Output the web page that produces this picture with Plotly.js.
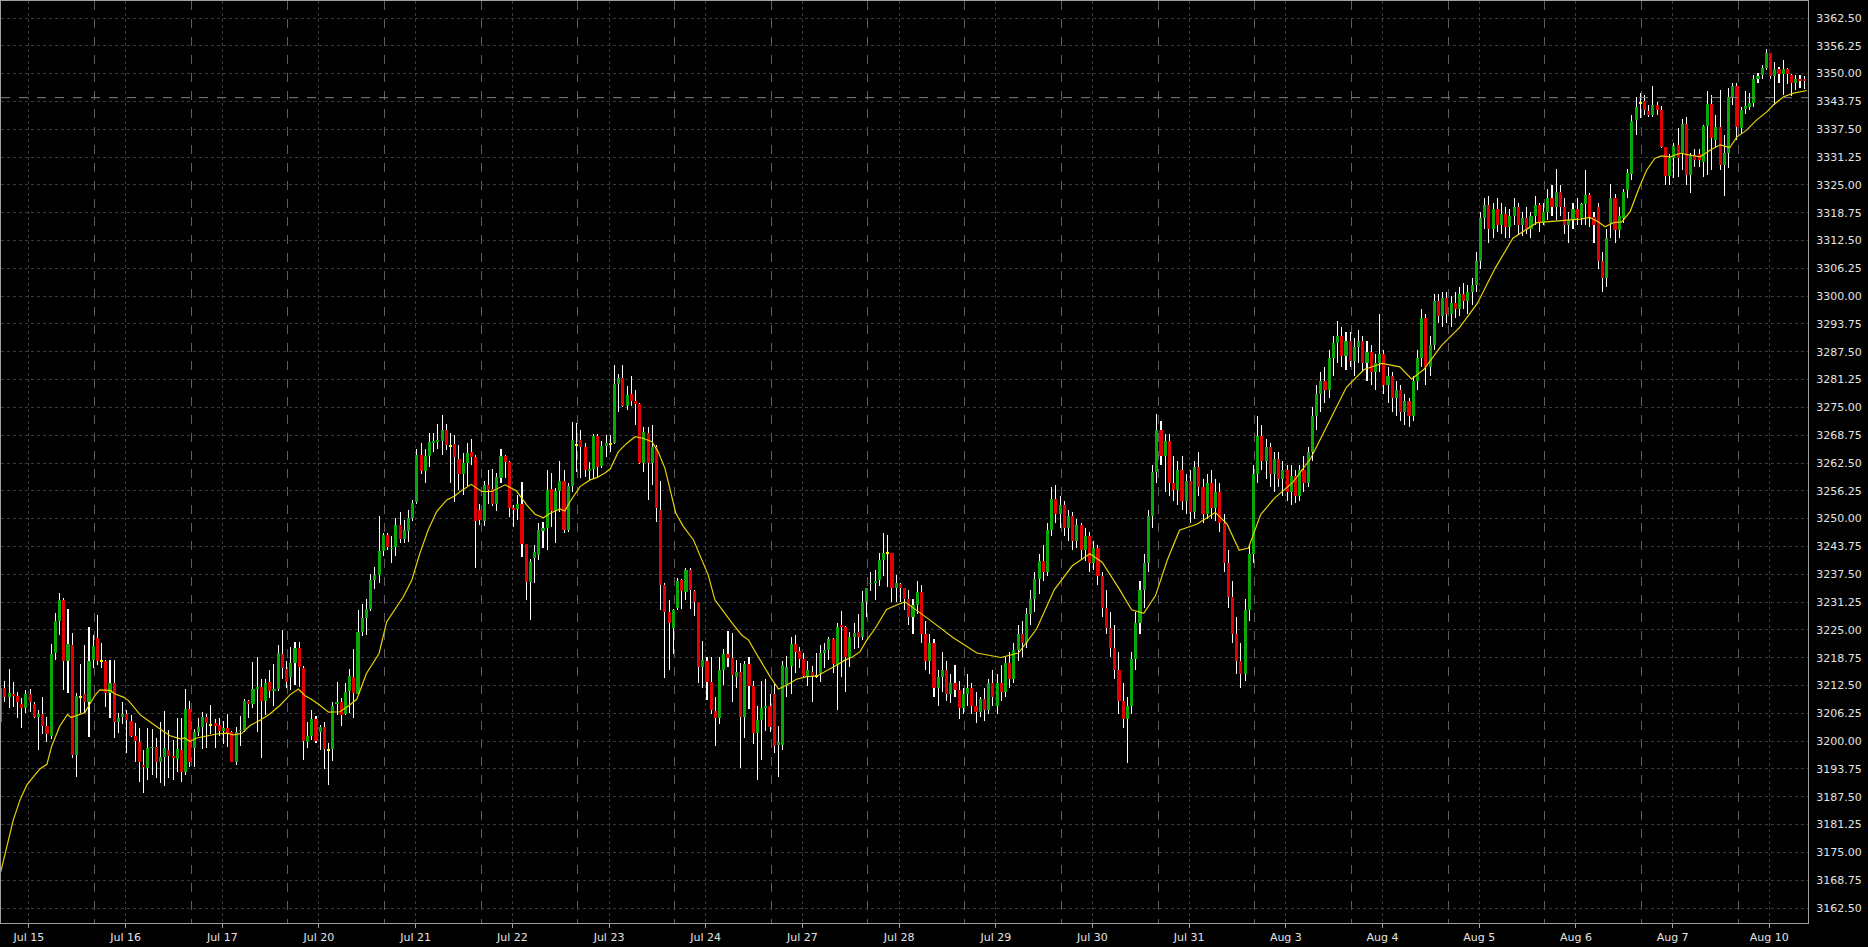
<!DOCTYPE html>
<html><head><meta charset="utf-8">
<script src="https://cdn.plot.ly/plotly-3.0.1.min.js"></script>
<style>html,body{margin:0;padding:0;background:#000;}#chart{width:1868px;height:947px;}</style>
</head><body><div id="chart"></div>
<script>
const dayLabels = ['Jul 15','Jul 16','Jul 17','Jul 20','Jul 21','Jul 22','Jul 23','Jul 24','Jul 27','Jul 28','Jul 29','Jul 30','Jul 31','Aug 3','Aug 4','Aug 5','Aug 6','Aug 7','Aug 10'];

const open = [
3204.2,3211.9,3210.0,3210.6,3210.2,3208.3,3207.5,3210.6,3208.4,3205.5,
3206.1,3203.5,3201.2,3219.9,3227.1,3231.8,3218.1,3221.6,3196.9,3210.0,
3210.6,3208.9,3218.3,3223.1,3217.9,3218.1,3210.9,3213.0,3204.4,3205.5,
3206.1,3204.5,3201.2,3199.9,3194.7,3194.0,3198.4,3198.7,3195.4,3196.4,
3198.0,3196.7,3196.0,3198.0,3193.0,3207.2,3198.4,3202.0,3203.2,3205.5,
3203.6,3204.0,3203.7,3202.2,3202.9,3202.0,3195.4,3202.2,3202.5,3209.1,
3208.3,3211.7,3212.1,3209.1,3213.2,3211.2,3211.7,3219.6,3216.2,3214.3,
3217.5,3221.0,3216.4,3199.9,3201.2,3204.9,3202.1,3203.1,3197.9,3198.2,
3208.4,3208.9,3206.2,3211.3,3214.5,3210.7,3224.6,3227.6,3229.6,3236.2,
3237.3,3242.8,3246.3,3243.1,3243.6,3248.6,3245.4,3247.3,3250.1,3253.8,
3264.3,3260.8,3264.1,3267.1,3267.3,3267.5,3269.9,3266.4,3266.7,3263.4,
3260.0,3262.6,3264.9,3263.9,3251.9,3249.5,3257.6,3256.6,3253.4,3259.2,
3264.1,3262.8,3252.3,3252.2,3253.3,3244.2,3235.7,3241.2,3241.8,3247.3,
3247.8,3256.7,3251.8,3256.1,3258.5,3247.4,3257.3,3266.5,3267.7,3266.2,
3260.7,3261.2,3268.6,3261.9,3266.4,3266.8,3267.1,3280.2,3281.5,3275.4,
3277.9,3276.4,3275.7,3262.4,3269.2,3262.4,3266.2,3252.0,3235.1,3229.0,
3225.4,3230.0,3236.2,3233.6,3238.5,3233.7,3231.2,3216.7,3218.0,3213.2,
3206.8,3205.3,3216.0,3219.5,3218.6,3214.5,3215.5,3205.5,3217.3,3212.4,
3201.9,3204.7,3207.5,3207.9,3210.7,3199.2,3199.2,3212.4,3216.9,3221.8,
3220.3,3218.4,3214.6,3215.6,3214.6,3215.2,3219.7,3220.5,3222.9,3217.1,
3226.1,3225.6,3218.8,3223.5,3224.6,3223.3,3231.3,3235.2,3235.5,3236.2,
3240.8,3242.2,3242.2,3234.3,3235.3,
3234.3,3232.0,3228.0,3230.5,3233.5,3224.0,3218.0,3222.0,3212.0,3214.5,
3216.0,3210.5,3213.0,3211.5,3207.5,3210.5,3212.0,3208.0,3206.5,3209.5,
3207.0,3213.0,
3208.0,3213.0,3211.0,3217.5,3214.0,3220.5,3224.0,3222.0,3228.5,3232.0,
3236.5,3240.5,3238.0,3247.5,3254.5,3251.0,3253.0,3248.0,3250.5,3245.0,
3248.5,3243.0,3246.0,3240.0,3243.5,3237.0,3230.0,3225.5,3221.0,3216.0,
3209.0,3205.0,3208.0,3218.5,3226.5,3234.0,3240.0,3250.5,3260.5,3270.0,
3264.0,3267.5,3258.0,3256.5,3261.0,3254.0,3258.5,3251.5,3261.5,3257.0,
3251.0,3258.0,3252.5,3256.0,3249.0,3240.0,3232.5,3224.0,3218.0,3215.0,
3229.5,3242.0,3260.0,3268.5,3263.0,3266.0,3260.0,3263.5,3259.0,3261.0,
3256.0,3259.5,3255.0,3261.0,3258.0,
3265.0,3273.0,3278.0,3281.0,3279.0,3286.0,3289.5,
3291.0,3286.5,3290.0,3285.5,3288.5,3290.0,3285.0,3287.5,3283.0,3285.0,
3287.0,3280.0,3282.0,3277.0,3279.0,3274.0,3276.5,3273.0,3281.0,3286.0,
3295.0,3284.0,3289.0,3299.0,3295.5,
3299.5,3296.0,3298.5,3297.0,3300.5,3299.0,3301.0,3302.5,
3308.0,3317.5,3320.5,3315.0,3319.5,3316.0,3318.5,3315.5,3318.0,3320.0,
3316.0,3317.5,3315.0,3318.0,3320.5,3316.5,3319.0,3322.0,3320.0,3323.5,
3320.0,3316.0,3317.0,3319.5,
3317.5,3320.8,3322.7,3317.8,3320.1,3308.0,3304.0,3316.4,3322.0,3314.9,
3317.5,3323.9,3327.4,3339.6,3343.5,3343.9,3341.7,3340.7,3343.0,3341.8,
3333.4,3327.0,3331.0,3333.9,3332.1,3338.7,3327.2,3331.7,3331.9,3330.2,
3338.2,3343.2,3335.1,3338.1,3329.5,3332.1,3344.8,3347.2,3337.7,3342.0,
3342.6,3343.3,3348.9,3349.7,3351.2,3354.7,3349.5,3351.0,3349.9,3351.0,
3349.7,3347.8,3348.9,3348.9];

const high = [
3214.5,3213.6,3216.2,3213.3,3211.1,3209.6,3211.5,3211.7,3208.9,3207.0,
3210.0,3205.5,3221.9,3228.8,3233.4,3232.1,3229.7,3224.3,3210.8,3217.4,
3221.6,3225.6,3223.9,3228.4,3222.0,3218.3,3218.3,3218.3,3206.4,3208.7,
3207.0,3205.9,3204.0,3202.9,3197.9,3202.9,3202.7,3200.8,3204.2,3206.7,
3202.5,3200.3,3205.3,3205.2,3211.7,3209.0,3202.7,3205.3,3206.5,3206.1,
3208.2,3205.0,3205.2,3204.6,3206.1,3202.3,3203.1,3205.7,3209.5,3209.2,
3217.7,3219.0,3214.0,3214.0,3216.0,3217.4,3221.7,3225.0,3218.1,3221.1,
3222.2,3222.2,3216.8,3204.4,3207.0,3205.7,3203.6,3204.2,3199.5,3208.9,
3213.4,3209.6,3213.0,3216.1,3220.8,3229.5,3230.8,3231.9,3237.6,3239.2,
3250.6,3246.8,3246.8,3246.0,3250.1,3251.6,3249.7,3251.9,3254.2,3265.6,
3267.1,3265.6,3269.3,3269.3,3271.3,3273.3,3271.3,3269.3,3268.8,3266.6,
3264.7,3266.9,3267.9,3264.3,3253.4,3258.5,3260.9,3261.2,3260.2,3265.7,
3264.4,3263.0,3253.1,3255.3,3258.2,3244.4,3240.9,3244.1,3249.0,3249.3,
3261.0,3260.2,3256.8,3263.0,3261.0,3257.9,3271.8,3271.4,3269.9,3267.1,
3262.8,3269.0,3269.0,3267.4,3268.8,3268.8,3284.5,3282.4,3284.5,3279.7,
3282.1,3278.9,3275.9,3270.7,3270.7,3271.0,3266.5,3258.5,3235.5,3231.7,
3229.8,3236.6,3236.4,3238.8,3239.0,3234.0,3231.3,3222.5,3219.0,3219.0,
3210.0,3219.0,3220.7,3224.7,3224.4,3218.2,3217.5,3218.0,3219.0,3213.5,
3207.9,3213.6,3213.9,3210.6,3213.0,3203.4,3217.9,3219.1,3223.5,3223.8,
3221.2,3219.7,3218.1,3216.9,3219.9,3221.6,3222.1,3223.3,3223.1,3226.5,
3229.3,3225.9,3224.6,3226.6,3228.6,3233.8,3234.3,3237.9,3238.5,3242.3,
3246.7,3246.3,3242.3,3237.3,3235.6,
3234.5,3234.0,3232.0,3236.0,3235.0,3227.0,3224.0,3223.0,3216.0,3220.0,
3218.0,3215.0,3217.0,3213.5,3212.0,3215.0,3213.0,3211.0,3210.0,3212.0,
3214.0,3216.0,
3215.0,3217.0,3219.0,3220.0,3222.0,3226.0,3227.0,3230.0,3234.0,3238.0,
3242.0,3244.0,3249.0,3257.0,3257.5,3255.0,3254.0,3252.0,3251.5,3250.0,
3249.0,3248.0,3247.0,3245.0,3244.0,3238.0,3234.0,3229.0,3226.0,3220.0,
3213.0,3210.0,3220.0,3229.0,3236.0,3242.0,3252.0,3262.0,3273.5,3272.0,
3269.0,3269.0,3264.0,3263.0,3264.0,3260.0,3261.0,3263.0,3265.0,3259.0,
3260.0,3261.0,3259.0,3258.0,3251.0,3243.0,3236.0,3228.0,3222.0,3232.0,
3244.0,3262.0,3273.0,3271.0,3268.0,3267.0,3265.0,3265.0,3263.0,3262.0,
3262.0,3261.0,3262.0,3264.0,3266.0,
3275.0,3280.0,3283.0,3284.0,3288.0,3291.0,3294.5,
3293.0,3292.0,3292.0,3290.5,3292.5,3291.0,3290.0,3289.0,3287.0,3296.0,
3288.0,3284.0,3283.0,3281.0,3280.0,3278.0,3277.0,3282.0,3288.0,3297.0,
3296.0,3291.0,3300.5,3300.5,3301.0,
3301.0,3300.0,3301.0,3302.0,3303.0,3302.5,3304.0,3310.0,
3319.0,3322.0,3322.5,3321.0,3322.0,3321.0,3320.0,3319.5,3322.0,3321.0,
3319.0,3320.0,3319.0,3322.5,3321.0,3321.0,3324.0,3325.0,3328.5,3325.0,
3322.0,3319.0,3321.0,3322.0,
3321.0,3328.3,3323.1,3319.0,3321.0,3310.0,3315.0,3325.3,3323.0,3320.0,
3324.0,3328.5,3340.7,3344.8,3345.6,3345.2,3343.0,3347.2,3343.7,3342.7,
3333.4,3332.0,3334.3,3337.7,3339.9,3340.2,3332.1,3333.0,3333.0,3338.5,
3346.2,3345.2,3340.7,3346.3,3336.2,3346.7,3347.8,3347.8,3342.6,3346.0,
3345.6,3349.7,3350.1,3352.0,3355.5,3354.7,3352.7,3351.6,3353.1,3351.2,
3349.9,3349.7,3349.7,3349.5];

const low = [
3204.0,3208.7,3207.5,3207.6,3205.3,3203.0,3206.3,3206.6,3205.1,3197.9,
3201.6,3199.9,3200.4,3218.3,3223.9,3211.4,3210.8,3196.3,3191.9,3206.4,
3206.4,3201.0,3216.4,3217.2,3216.4,3207.6,3205.1,3200.6,3201.8,3203.8,
3197.3,3201.0,3195.3,3190.9,3188.4,3191.3,3192.4,3191.7,3190.5,3190.0,
3191.7,3191.2,3193.0,3190.9,3192.4,3194.2,3194.2,3201.2,3198.2,3198.4,
3201.6,3198.5,3201.2,3199.4,3198.6,3195.2,3194.7,3199.0,3202.0,3205.3,
3207.4,3202.0,3196.3,3205.9,3209.8,3208.0,3211.3,3214.0,3212.0,3211.5,
3212.7,3212.1,3195.8,3198.4,3200.3,3199.5,3198.0,3193.7,3190.2,3195.6,
3205.9,3203.3,3205.9,3206.4,3205.1,3210.4,3223.6,3223.8,3229.3,3234.1,
3235.5,3241.6,3243.0,3240.0,3241.6,3244.6,3244.6,3244.8,3249.5,3253.3,
3260.0,3257.9,3261.7,3265.0,3265.6,3264.3,3265.4,3258.1,3253.8,3256.4,
3255.3,3257.4,3262.0,3239.0,3248.6,3248.4,3253.4,3252.9,3251.7,3258.0,
3259.1,3250.4,3248.2,3249.7,3241.4,3231.7,3227.2,3235.5,3240.7,3243.3,
3243.0,3248.2,3244.5,3251.6,3246.7,3247.1,3255.9,3260.5,3259.1,3259.4,
3258.7,3259.2,3259.4,3261.3,3263.9,3265.0,3266.7,3273.9,3275.0,3274.4,
3275.2,3271.0,3262.2,3260.5,3254.2,3257.6,3249.3,3229.5,3214.1,3216.0,
3219.5,3229.5,3229.8,3231.7,3229.8,3228.2,3213.0,3211.9,3209.2,3206.0,
3199.0,3203.8,3212.6,3216.7,3208.7,3211.9,3194.0,3200.8,3207.2,3199.4,
3191.3,3195.8,3202.2,3202.0,3197.4,3191.9,3198.0,3210.0,3210.7,3215.2,
3216.4,3214.1,3212.3,3208.9,3214.1,3213.4,3216.4,3218.2,3215.2,3207.0,
3214.5,3211.1,3216.7,3220.6,3220.9,3222.7,3228.0,3233.7,3231.8,3234.9,
3237.0,3234.7,3231.3,3231.3,3231.3,
3229.5,3226.0,3224.0,3228.5,3222.0,3216.0,3215.0,3210.0,3208.0,3211.0,
3209.0,3208.5,3210.0,3205.0,3206.0,3208.0,3206.0,3204.0,3205.5,3204.5,
3206.0,3208.0,
3206.0,3209.0,3210.0,3212.0,3213.0,3218.0,3219.0,3221.0,3226.0,3229.0,
3233.0,3236.0,3237.0,3246.0,3249.0,3248.0,3246.0,3245.0,3243.0,3243.5,
3241.0,3240.5,3238.0,3238.5,3235.0,3228.0,3224.0,3219.0,3214.0,3206.0,
3203.0,3195.0,3206.0,3216.0,3224.0,3230.0,3238.0,3248.0,3258.0,3262.0,
3256.0,3255.0,3254.0,3253.0,3252.0,3251.0,3249.0,3250.0,3255.0,3249.0,
3250.0,3250.0,3249.5,3247.0,3238.0,3230.0,3222.0,3215.0,3212.0,3213.5,
3227.0,3240.0,3258.0,3261.0,3259.0,3257.0,3256.0,3257.0,3255.0,3254.0,
3253.0,3253.5,3254.0,3256.0,3257.0,
3263.0,3270.0,3274.0,3276.0,3277.0,3282.0,3285.0,
3284.0,3283.5,3284.0,3282.0,3285.0,3283.0,3281.0,3280.0,3279.0,3283.0,
3278.0,3276.0,3274.0,3273.0,3272.0,3271.0,3270.5,3272.0,3279.0,3284.0,
3280.0,3282.0,3288.0,3294.0,3293.0,
3294.0,3293.0,3295.0,3295.5,3297.0,3296.0,3298.0,3301.0,
3306.0,3315.0,3312.0,3313.0,3314.5,3314.0,3313.0,3313.0,3316.0,3314.0,
3313.5,3314.0,3313.0,3316.0,3314.5,3316.0,3317.0,3318.0,3317.0,3318.0,
3314.0,3312.0,3315.0,3316.0,
3316.0,3316.0,3315.6,3312.0,3306.0,3301.0,3302.0,3313.0,3312.0,3313.0,
3316.5,3322.0,3326.0,3336.2,3340.0,3340.7,3340.2,3340.2,3340.7,3333.2,
3325.0,3325.0,3326.5,3326.8,3328.3,3325.0,3323.1,3329.0,3329.0,3326.8,
3327.2,3328.3,3333.6,3328.3,3322.4,3328.7,3343.0,3335.1,3336.5,3341.0,
3341.8,3342.5,3348.0,3348.9,3350.8,3348.9,3343.0,3347.8,3345.2,3347.7,
3345.0,3346.3,3346.7,3346.5];

const close = [
3211.9,3209.9,3210.8,3210.2,3208.7,3207.5,3210.6,3208.7,3205.5,3206.1,
3203.5,3201.6,3219.6,3226.9,3231.8,3218.1,3221.9,3196.9,3210.2,3210.0,
3208.9,3218.1,3221.3,3218.1,3217.9,3210.9,3213.0,3204.4,3205.3,3206.1,
3204.8,3201.2,3200.0,3195.2,3194.1,3198.4,3198.7,3195.4,3196.5,3198.4,
3196.7,3196.2,3198.2,3193.0,3207.2,3195.2,3202.0,3203.2,3205.5,3204.0,
3203.6,3203.3,3202.3,3202.9,3201.7,3195.4,3202.0,3202.5,3209.1,3208.3,
3211.7,3212.1,3209.1,3213.0,3211.2,3211.7,3219.7,3216.4,3213.4,3217.5,
3221.0,3216.6,3200.1,3201.2,3204.9,3200.1,3203.1,3198.2,3197.9,3207.9,
3208.9,3205.9,3211.1,3214.6,3210.9,3224.6,3227.6,3229.6,3236.2,3237.3,
3242.8,3246.3,3243.7,3243.3,3248.6,3245.4,3247.4,3250.1,3253.6,3264.3,
3260.8,3264.1,3267.3,3267.5,3267.7,3269.9,3266.5,3266.4,3263.9,3260.0,
3262.6,3264.8,3263.9,3249.5,3249.7,3257.6,3256.4,3253.4,3259.4,3264.1,
3262.8,3252.5,3252.0,3253.3,3244.4,3235.8,3240.3,3242.6,3247.4,3247.8,
3256.4,3251.8,3256.1,3258.5,3247.4,3257.3,3267.7,3266.5,3266.2,3260.9,
3261.2,3268.6,3261.5,3266.4,3267.1,3266.8,3280.2,3281.5,3275.4,3277.8,
3276.4,3275.8,3262.4,3269.4,3262.4,3266.2,3252.3,3235.1,3229.0,3226.5,
3229.5,3236.0,3233.7,3238.5,3234.0,3231.3,3216.7,3218.2,3213.4,3207.0,
3205.3,3216.0,3219.5,3218.6,3214.9,3215.5,3205.5,3217.3,3212.5,3201.9,
3204.8,3207.4,3207.8,3203.1,3198.9,3199.7,3217.1,3216.7,3221.8,3220.1,
3218.4,3214.6,3216.0,3214.6,3214.6,3219.7,3220.5,3222.9,3217.3,3225.7,
3225.6,3218.8,3223.3,3224.4,3223.3,3231.3,3234.3,3235.6,3236.0,3240.8,
3242.2,3242.2,3234.3,3235.6,3234.3,
3232.0,3228.0,3230.5,3233.5,3224.0,3218.0,3222.0,3212.0,3214.5,3216.0,
3210.5,3213.0,3211.5,3207.5,3210.5,3212.0,3208.0,3206.5,3209.5,3207.0,
3213.0,3210.0,
3213.0,3211.0,3217.5,3214.0,3220.5,3224.0,3222.0,3228.5,3232.0,3236.5,
3240.5,3238.0,3247.5,3254.5,3251.0,3253.0,3248.0,3250.5,3245.0,3248.5,
3243.0,3246.0,3240.0,3243.5,3237.0,3230.0,3225.5,3221.0,3216.0,3209.0,
3205.0,3208.0,3218.5,3226.5,3234.0,3240.0,3250.5,3260.5,3270.0,3264.0,
3267.5,3258.0,3256.5,3261.0,3254.0,3258.5,3251.5,3261.5,3257.0,3251.0,
3258.0,3252.5,3256.0,3249.0,3240.0,3232.5,3224.0,3218.0,3215.0,3229.5,
3242.0,3260.0,3268.5,3263.0,3266.0,3260.0,3263.5,3259.0,3261.0,3256.0,
3259.5,3255.0,3261.0,3258.0,3265.0,
3273.0,3278.0,3281.0,3279.0,3286.0,3289.5,3291.0,
3286.5,3290.0,3285.5,3288.5,3290.0,3285.0,3287.5,3283.0,3285.0,3287.0,
3280.0,3282.0,3277.0,3279.0,3274.0,3276.5,3273.0,3281.0,3286.0,3295.0,
3284.0,3289.0,3299.0,3295.5,3299.5,
3296.0,3298.5,3297.0,3300.5,3299.0,3301.0,3302.5,3308.0,
3317.5,3320.5,3315.0,3319.5,3316.0,3318.5,3315.5,3318.0,3320.0,3316.0,
3317.5,3315.0,3318.0,3320.5,3316.5,3319.0,3322.0,3320.0,3323.5,3320.0,
3316.0,3317.0,3319.5,3317.5,
3320.8,3322.7,3317.8,3316.0,3308.0,3304.0,3313.0,3322.0,3314.9,3318.0,
3323.5,3327.6,3339.4,3342.6,3343.5,3341.8,3340.7,3343.0,3341.8,3333.4,
3327.1,3331.0,3333.7,3331.0,3338.7,3327.2,3331.7,3330.7,3330.7,3338.2,
3343.2,3335.5,3338.1,3329.5,3332.1,3344.8,3347.2,3337.9,3341.8,3342.7,
3343.3,3348.9,3349.5,3351.2,3354.7,3349.5,3351.0,3349.9,3351.0,3349.9,
3347.8,3348.9,3348.3,3348.3];

const maIndex = [0,1.4,3,4.6,6.2,7.8,9.4,11,12.1,14,15,15.9,16.7,18,20,21.3,22.5,23.6,26,27.2,29.2,30.4,31.6,33.2,34.8,36.5,37.9,40.3,42.7,43.8,45,46.6,49,51.4,53.8,55.3,57.3,59.3,61.7,64,66.4,68.8,70.8,72.4,73.6,75.6,78,80.7,82.7,84.7,87,90,91.8,93.8,95.8,97.8,99.7,101.7,103.7,106.1,108,109.3,111.9,114.4,116.8,120,122.7,125.1,127.1,129.1,130.7,133,134.2,135.4,137.8,140.2,141.8,143.8,145,146.9,148.9,150.9,152.9,154.9,156.4,158,159.2,160.6,162.4,164.8,166.3,168.3,169.9,171.9,174.3,176.3,177.9,179.4,180.6,183,185,187,189.3,191.7,194.1,196.5,198.9,200.8,202.4,204.4,206,208,210.7,213.1,215.1,220.9,226.5,232.2,237.9,242.1,246.4,250.6,254.9,259.1,262,266.2,269,271.9,274.7,277.5,280.4,284.6,288.9,291.7,294.6,296.8,299.7,303,307.3,311.6,315.8,320.1,324.3,328.6,332.8,335.6,338.5,342.7,347,351.2,355.5,359.7,365.4,371,375.7,378,380,381.6,383.6,385.6,387.6,389.5,391.5,393.5,395.1,397.1,399.5,401.9,404.2,406.6,409,411.3,413,415.3,417.7,420.1,421.7,424.1,426.5,429.6];
const maValue = [3170.6,3176.3,3182.3,3186.8,3190.1,3192.0,3193.8,3194.8,3198.8,3203.3,3204.8,3206.0,3205.3,3205.7,3206.4,3208.5,3210.4,3211.5,3211.4,3210.6,3209.9,3209.1,3207.8,3205.9,3204.8,3203.6,3202.7,3201.2,3200.5,3200.7,3199.9,3200.7,3201.2,3201.6,3201.8,3201.4,3201.7,3203.5,3204.7,3206.1,3208.0,3210.4,3211.7,3210.2,3209.6,3208.3,3206.5,3206.6,3207.9,3209.4,3215.2,3219.7,3226.8,3229.8,3232.5,3236.2,3242.2,3247.5,3251.6,3254.2,3255.1,3256.1,3257.7,3256.1,3256.1,3257.6,3256.2,3253.1,3251.0,3250.2,3251.2,3252.2,3251.7,3253.8,3257.2,3258.7,3259.2,3260.3,3261.2,3265.0,3266.9,3268.4,3268.0,3267.3,3265.0,3261.3,3256.8,3251.2,3248.2,3245.2,3241.8,3237.3,3231.7,3229.1,3226.1,3223.8,3222.7,3220.2,3218.2,3214.5,3211.7,3212.6,3213.9,3214.5,3214.6,3215.8,3217.1,3218.2,3218.8,3220.1,3222.7,3225.3,3229.6,3230.6,3231.3,3227.3,3223.3,3219.8,3218.8,3219.8,3225.2,3234.0,3239.4,3242.1,3240.2,3234.0,3229.5,3228.7,3232.7,3240.7,3247.4,3248.8,3251.4,3248.8,3242.9,3243.4,3250.9,3254.6,3258.1,3263.5,3271.5,3279.5,3283.5,3284.9,3284.1,3281.4,3283.5,3288.9,3292.9,3298.3,3306.3,3313.0,3316.5,3317.0,3317.3,3317.7,3316.7,3315.6,3316.5,3316.7,3319.0,3323.8,3328.3,3331.0,3331.5,3331.3,3332.1,3331.7,3331.3,3332.8,3334.0,3333.4,3335.8,3337.3,3339.6,3341.4,3343.0,3344.8,3345.6,3346.2];

const askLevel = 3344.6;

const n = close.length;
const idx = close.map((_, i) => i);
const bodyBase = [], bodyLen = [], bodyColor = [];
for (let i = 0; i < n; i++) {
  const o = open[i], c = close[i];
  if (o === c) { bodyBase.push(o - 0.22); bodyLen.push(0.44); bodyColor.push('#ffff00'); }
  else { bodyBase.push(Math.min(o, c)); bodyLen.push(Math.abs(c - o)); bodyColor.push(c > o ? '#08a808' : '#e20000'); }
}
const wickLen = high.map((h, i) => h - low[i]);

const traces = [
  {type: 'bar', x: idx, base: low, y: wickLen, width: 0.25,
   marker: {color: '#ffffff', line: {width: 0}}, hoverinfo: 'skip'},
  {type: 'bar', x: idx, base: bodyBase, y: bodyLen, width: 0.74,
   marker: {color: bodyColor, line: {width: 0}}, hoverinfo: 'skip'},
  {type: 'scatter', mode: 'lines', x: maIndex, y: maValue,
   line: {color: '#e6d20a', width: 1.2}, hoverinfo: 'skip'}
];

const tickFont = {family: 'DejaVu Sans, Verdana, sans-serif', size: 11, color: '#e4e4e4'};
const layout = {
  width: 1868, height: 947,
  margin: {l: 1, r: 60, t: 1, b: 24},
  paper_bgcolor: '#000000', plot_bgcolor: '#000000',
  showlegend: false, barmode: 'overlay', bargap: 0, bargroupgap: 0, hovermode: false,
  xaxis: {
    range: [0.07, 429.9], tickmode: 'array',
    tickvals: dayLabels.map((_, k) => 6.7 + 23 * k), ticktext: dayLabels,
    ticks: 'outside', ticklen: 4, tickcolor: '#a0a0a0',
    showgrid: true, gridcolor: '#3a3a3a', griddash: 'dot', gridwidth: 1,
    minor: {tickmode: 'linear', tick0: 22.3, dtick: 23, showgrid: true, gridcolor: '#5c5c5c', griddash: 'dash', gridwidth: 1, ticks: ''},
    showline: true, linecolor: '#a0a0a0', linewidth: 1, mirror: true,
    zeroline: false, tickfont: tickFont, fixedrange: true
  },
  yaxis: {
    side: 'right', range: [3159.13, 3366.32], tickmode: 'linear', tick0: 3162.5, dtick: 6.25,
    tickformat: '.2f', ticks: '', showgrid: true, gridcolor: '#3a3a3a', griddash: 'dot', gridwidth: 1,
    showline: true, linecolor: '#a0a0a0', linewidth: 1, mirror: true,
    zeroline: false, tickfont: tickFont, fixedrange: true, ticklabelstandoff: 5
  },
  shapes: [{type: 'line', xref: 'paper', x0: 0, x1: 1, yref: 'y', y0: askLevel, y1: askLevel,
            line: {color: '#808080', width: 1, dash: 'dash'}}]
};

Plotly.newPlot('chart', traces, layout, {staticPlot: true, displayModeBar: false});
</script>
</body></html>
